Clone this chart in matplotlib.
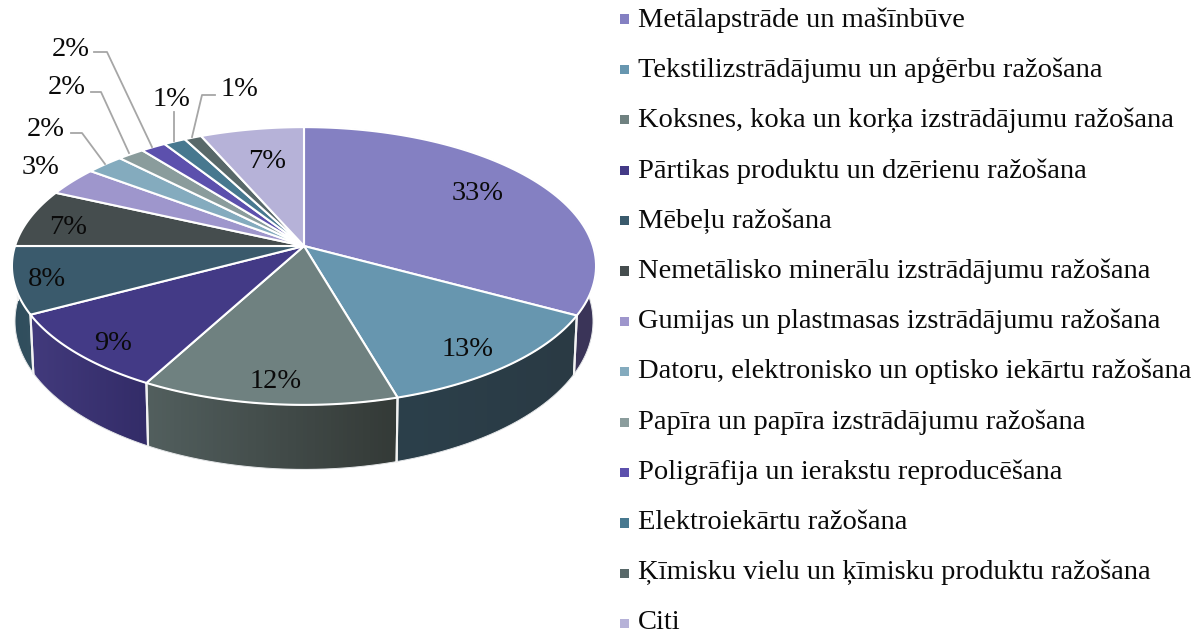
import numpy as np
import matplotlib
matplotlib.use('Agg')
import matplotlib.pyplot as plt
from matplotlib.colors import LinearSegmentedColormap
from matplotlib.patches import Polygon

# Share of each sector (slice angles include the decimals)
categories = ['Metālapstrāde un mašīnbūve', 'Tekstilizstrādājumu un apģērbu ražošana',
              'Koksnes, koka un korķa izstrādājumu ražošana', 'Pārtikas produktu un dzērienu ražošana',
              'Mēbeļu ražošana', 'Nemetālisko minerālu izstrādājumu ražošana',
              'Gumijas un plastmasas izstrādājumu ražošana',
              'Datoru, elektronisko un optisko iekārtu ražošana',
              'Papīra un papīra izstrādājumu ražošana', 'Poligrāfija un ierakstu reproducēšana',
              'Elektroiekārtu ražošana', 'Ķīmisku vielu un ķīmisku produktu ražošana', 'Citi']
values = [32.9, 12.6, 12.4, 9.3, 7.8, 6.8, 3.4, 2.4, 1.7, 1.6, 1.4, 1.1, 6.6]
labels = ['33%', '13%', '12%', '9%', '8%', '7%', '3%', '2%', '2%', '2%', '1%', '1%', '7%']

colors = ['#8480C2', '#6796AF', '#6F8180', '#433A86', '#3A5A6C', '#454D4E', '#9E96CC',
          '#84ABBE', '#8A9C9C', '#5C50AD', '#47788F', '#586869', '#B6B2D8']
# side wall gradient (left, right), only the front slices show a wall
wall_colors = [('#37325A', '#3B3558'), ('#2C404B', '#2A3A44'), ('#525F5E', '#343A37'),
               ('#423A7C', '#332C68'), ('#2F4D5C', '#33505F')]

label_pos = [(478, 194), (468, 349), (276, 382), (113, 344), (47, 280), (68, 228), (41, 167),
             (46, 129), (67, 88), (71, 49), (171, 99), (239, 90), (267, 161)]
leaders = [[(71, 133), (82, 133), (105, 164)],
           [(91, 92), (101, 92), (129, 153)],
           [(94, 52), (107, 52), (152, 147)],
           [(174, 112), (174, 141)],
           [(215, 95), (202, 95), (192, 137)]]

FONT = 'Liberation Serif'


def project(theta, cy, a, k):
    # theta is clockwise from the top, p gives the perspective of the tilted disc
    p = 0.144
    u = np.sin(theta)
    v = -np.cos(theta)
    return 304 + a * u / (1 - p * v), cy + k * v / (1 - p * v)


fig = plt.figure(figsize=(11.95, 6.36), dpi=100)
ax = fig.add_axes([0, 0, 1, 1])
ax.set_xlim(0, 1195)
ax.set_ylim(636, 0)
ax.axis('off')

edges = np.radians(np.concatenate([[0], np.cumsum(values)]) * 3.6)

# walls first, the top face covers whatever is not visible
for i, (left, right) in enumerate(wall_colors):
    th = np.linspace(edges[i], edges[i + 1], 80)
    x1, y1 = project(th, 246, 289, 136)
    x2, y2 = project(th, 300, 286, 145)
    pts = np.column_stack([np.r_[x1, x2[::-1]], np.r_[y1, y2[::-1]]])
    wall = Polygon(pts, closed=True, facecolor='none', edgecolor='none', zorder=2)
    ax.add_patch(wall)
    cmap = LinearSegmentedColormap.from_list('w%d' % i, [left, right])
    im = ax.imshow(np.linspace(0, 1, 64).reshape(1, -1), cmap=cmap, aspect='auto', zorder=2,
                   extent=[pts[:, 0].min(), pts[:, 0].max(), pts[:, 1].max(), pts[:, 1].min()])
    im.set_clip_path(wall)
    ax.plot(pts[:, 0], pts[:, 1], color='#E4E6E8', lw=0.7, zorder=2)
    # white seam where two walls meet
    ax.plot([x1[0], x2[0]], [y1[0], y2[0]], color='#F2F2F2', lw=1.5, zorder=3)
    ax.plot([x1[-1], x2[-1]], [y1[-1], y2[-1]], color='#F2F2F2', lw=1.5, zorder=3)

ax.set_xlim(0, 1195)
ax.set_ylim(636, 0)

# top face
for i, c in enumerate(colors):
    th = np.linspace(edges[i], edges[i + 1], 80)
    x, y = project(th, 246, 289, 136)
    ax.fill(np.r_[304, x], np.r_[246, y], facecolor=c, edgecolor='white', lw=1.5,
            joinstyle='round', zorder=4)

for (x, y), t in zip(label_pos, labels):
    ax.text(x, y, t, fontsize=20.5, family=FONT, color='#0A0A0A', ha='center', va='center', zorder=6)

for line in leaders:
    xs, ys = zip(*line)
    ax.plot(xs, ys, color='#A6A6A6', lw=1.3, zorder=5)

# legend, text placed by baseline so the last row stays inside the picture
rows = np.arange(len(categories))
ax.scatter([624.5] * len(categories), 19 + 50.4 * rows, marker='s', s=42, c=colors, linewidths=0, zorder=5)
for y, name in zip(27 + 50.2 * rows, categories):
    ax.text(638, y, name, fontsize=20.5, family=FONT, color='#0A0A0A', ha='left', va='baseline')

fig.savefig('out.png', dpi=100)
